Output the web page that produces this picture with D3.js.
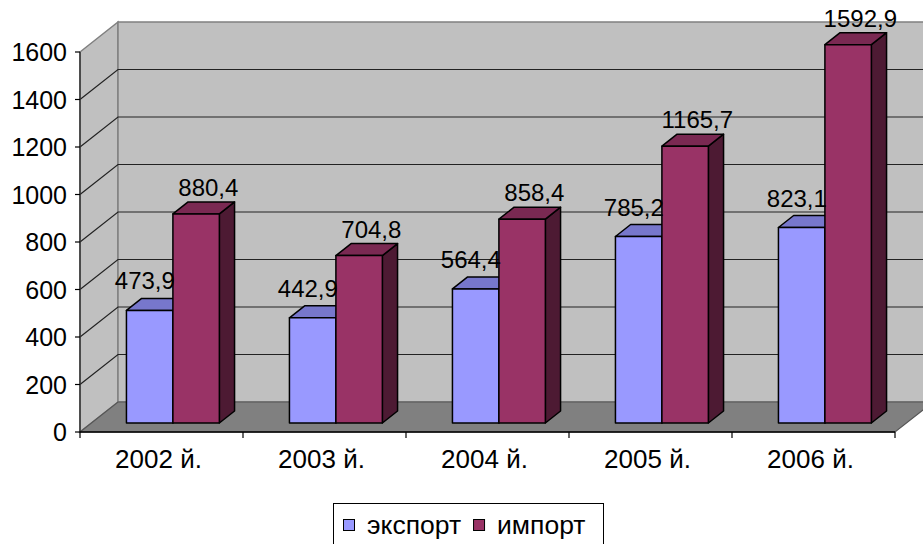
<!DOCTYPE html>
<html>
<head>
<meta charset="utf-8">
<script src="https://cdn.jsdelivr.net/npm/d3@7"></script>
<style>
  html, body { margin: 0; padding: 0; background: #fff; }
  svg { display: block; }
  text { font-family: Arial, "Liberation Sans", sans-serif; fill: #000; }
</style>
</head>
<body>
<div id="chart"></div>
<script>
// ---- data ----
const categories = ["2002 й.", "2003 й.", "2004 й.", "2005 й.", "2006 й."];
const seriesNames = ["экспорт", "импорт"];
const exportValues = [473.9, 442.9, 564.4, 785.2, 823.1];
const importValues = [880.4, 704.8, 858.4, 1165.7, 1592.9];
const yTicks = [0, 200, 400, 600, 800, 1000, 1200, 1400, 1600];

// ---- styling ----
const W = 923, H = 544;
const DX = 38, DY = 30;          // oblique depth projection of the floor
const Z0 = 0.3, Z1 = 0.7;        // bar depth span
const colors = {
  "экспорт": { front: "#9999FF", top: "#7777CC", side: "#4D4D80" },
  "импорт":  { front: "#993366", top: "#7A2952", side: "#4D1A33" }
};
const FONT_Y = 25, FONT_X = 26, FONT_LAB = 24, FONT_LEG = 26.5;

const svg = d3.select("#chart").append("svg").attr("width", W).attr("height", H);
svg.append("rect").attr("width", W).attr("height", H).attr("fill", "#fff");

const y = d3.scaleLinear().domain([0, 1600]).range([432, 52]);
const x0 = d3.scaleBand().domain(categories).range([80, 895]).paddingInner(0.43).paddingOuter(0.215);
const x1 = d3.scaleBand().domain(seriesNames).range([0, x0.bandwidth()]);

const P = (x, yy, z) => [x + z * DX, yy - z * DY];
const poly = pts => pts.map(p => p.join(",")).join(" ");

const xL = x0.range()[0], xR = x0.range()[1];
const yMin = y(0), yMax = y(1600);

// walls
const walls = svg.append("g");
walls.append("polygon")
  .attr("points", poly([P(xL, yMax, 0), P(xL, yMax, 1), P(xL, yMin, 1), P(xL, yMin, 0)]))
  .attr("fill", "#C0C0C0").attr("stroke", "#808080").attr("stroke-width", 1.5);
walls.append("polygon")
  .attr("points", poly([P(xL, yMax, 1), P(xR, yMax, 1), P(xR, yMin, 1), P(xL, yMin, 1)]))
  .attr("fill", "#C0C0C0").attr("stroke", "#808080").attr("stroke-width", 1.5);

// gridlines
const grid = svg.append("g");
yTicks.filter(v => v > 0 && v < 1600).forEach(v => {
  const a = P(xL, y(v), 0), b = P(xL, y(v), 1), c = P(xR, y(v), 1);
  grid.append("polyline").attr("points", poly([a, b, c]))
    .attr("fill", "none").attr("stroke", "#222").attr("stroke-width", 1.2);
});

// floor
svg.append("polygon")
  .attr("points", poly([P(xL, yMin, 0), P(xR, yMin, 0), P(xR, yMin, 1), P(xL, yMin, 1)]))
  .attr("fill", "#808080").attr("stroke", "#555").attr("stroke-width", 1.2);

// axes lines
svg.append("line").attr("x1", xL).attr("x2", xL).attr("y1", yMax).attr("y2", yMin)
  .attr("stroke", "#333").attr("stroke-width", 1.5);
svg.append("line").attr("x1", xL).attr("x2", xR).attr("y1", yMin).attr("y2", yMin)
  .attr("stroke", "#000").attr("stroke-width", 1.5);

// y ticks + labels
const yAxisG = svg.append("g");
yTicks.forEach(v => {
  yAxisG.append("line").attr("x1", xL - 5).attr("x2", xL).attr("y1", y(v)).attr("y2", y(v))
    .attr("stroke", "#000").attr("stroke-width", 1.2);
  yAxisG.append("text").attr("x", xL - 13).attr("y", y(v)).attr("dy", "0.36em")
    .attr("text-anchor", "end").attr("font-size", FONT_Y).text(v);
});

// x ticks + labels
const xTickPos = categories.map(c => x0(c) - x0.step() * x0.paddingInner() / 2).concat([xR]);
xTickPos.forEach(px => {
  svg.append("line").attr("x1", px).attr("x2", px).attr("y1", yMin).attr("y2", yMin + 6)
    .attr("stroke", "#000").attr("stroke-width", 1.2);
});
categories.forEach(c => {
  svg.append("text").attr("x", x0(c) + x0.bandwidth() / 2 - 3).attr("y", 468)
    .attr("text-anchor", "middle").attr("font-size", FONT_X).text(c);
});

// bars
const barsG = svg.append("g");
const labelsG = svg.append("g");
const fmt = v => v.toFixed(1).replace(".", ",");
categories.forEach((c, i) => {
  seriesNames.forEach((s, j) => {
    const v = j === 0 ? exportValues[i] : importValues[i];
    const a = x0(c) + x1(s), b = a + x1.bandwidth();
    const yt = y(v), yb = y(0);
    const col = colors[s];
    barsG.append("polygon")
      .attr("points", poly([P(b, yt, Z0), P(b, yb, Z0), P(b, yb, Z1), P(b, yt, Z1)]))
      .attr("fill", col.side).attr("stroke", "#000").attr("stroke-width", 1.5).attr("stroke-linejoin", "round");
    barsG.append("polygon")
      .attr("points", poly([P(a, yt, Z0), P(b, yt, Z0), P(b, yt, Z1), P(a, yt, Z1)]))
      .attr("fill", col.top).attr("stroke", "#000").attr("stroke-width", 1.5).attr("stroke-linejoin", "round");
    barsG.append("polygon")
      .attr("points", poly([P(a, yt, Z0), P(b, yt, Z0), P(b, yb, Z0), P(a, yb, Z0)]))
      .attr("fill", col.front).attr("stroke", "#000").attr("stroke-width", 1.5).attr("stroke-linejoin", "round");
    const topBack = P((a + b) / 2, yt, Z1);
    const dxLab = j === 0 ? -20 : -3;
    const dyLab = j === 0 ? -9 : -6;
    labelsG.append("text")
      .attr("x", topBack[0] + dxLab).attr("y", topBack[1] + dyLab)
      .attr("text-anchor", "middle").attr("font-size", FONT_LAB).text(fmt(v));
  });
});

// legend
const lg = svg.append("g");
lg.append("rect").attr("x", 333.5).attr("y", 503.5).attr("width", 270).attr("height", 50)
  .attr("fill", "#fff").attr("stroke", "#000").attr("stroke-width", 1);
let lx = 343;
seriesNames.forEach((s, j) => {
  lg.append("rect").attr("x", lx + 0.5).attr("y", 519.5).attr("width", 11).attr("height", 11)
    .attr("fill", colors[s].front).attr("stroke", "#000").attr("stroke-width", 1);
  const t = lg.append("text").attr("x", lx + 24).attr("y", 534).attr("font-size", FONT_LEG).text(s);
  lx = lx + 24 + t.node().getComputedTextLength() + 12;
});
</script>
</body>
</html>
